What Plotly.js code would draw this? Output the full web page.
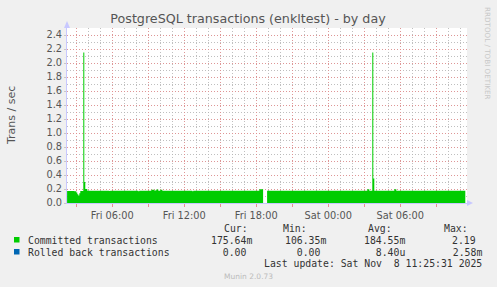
<!DOCTYPE html>
<html>
<head>
<meta charset="utf-8">
<script src="https://cdn.plot.ly/plotly-3.0.1.min.js"></script>
<style>html,body{margin:0;padding:0;background:#F0F0F0;}#chart{width:497px;height:287px;}</style>
</head>
<body>
<div id="chart"></div>
<script>
// ---- data ----
var times = [
  '2025-11-07 02:14','2025-11-07 02:50','2025-11-07 03:00','2025-11-07 03:05','2025-11-07 03:10',
  '2025-11-07 03:15','2025-11-07 03:20','2025-11-07 03:35','2025-11-07 03:40','2025-11-07 03:45',
  '2025-11-07 03:55','2025-11-07 05:45','2025-11-07 05:50','2025-11-07 08:10','2025-11-07 08:15',
  '2025-11-07 09:15','2025-11-07 09:30','2025-11-07 09:40','2025-11-07 09:50','2025-11-07 10:00',
  '2025-11-07 10:10','2025-11-07 12:40','2025-11-07 12:45','2025-11-07 18:15','2025-11-07 18:34',
  '2025-11-07 18:35','2025-11-07 18:54','2025-11-08 03:15','2025-11-08 03:25','2025-11-08 03:40',
  '2025-11-08 03:45','2025-11-08 03:50','2025-11-08 05:30','2025-11-08 05:40','2025-11-08 11:25'
];
var committed = [
  0.172,0.168,0.150,0.125,0.106,
  0.140,0.172,2.15,0.30,0.20,
  0.176,0.170,0.176,0.168,0.176,
  0.190,0.178,0.192,0.176,0.190,
  0.176,0.168,0.176,0.195,0.195,
  null,0.176,0.195,0.176,2.15,
  0.35,0.176,0.195,0.176,0.176
];
var rolledBack = [
  0,0,0,0,0,
  0,0,0.0026,0,0,
  0,0,0,0,0,
  0,0,0,0,0,
  0,0,0,0,0,
  null,0,0,0,0.002,
  0,0,0,0,0
];
var seriesNames = ['Committed transactions','Rolled back transactions'];
var seriesColors = ['#00CC00','#0066B3'];
var statHeaders = ['Cur:','Min:','Avg:','Max:'];
var statsCommitted = ['175.64m','106.35m','184.55m','2.19 '];
var statsRolled = ['  0.00 ','  0.00 ','  8.40u','  2.58m'];
var xTickVals = ['2025-11-07 03:00','2025-11-07 06:00','2025-11-07 09:00','2025-11-07 12:00',
  '2025-11-07 15:00','2025-11-07 18:00','2025-11-07 21:00','2025-11-08 00:00',
  '2025-11-08 03:00','2025-11-08 06:00','2025-11-08 09:00'];
var xTickText = ['','Fri 06:00','','Fri 12:00','','Fri 18:00','','Sat 00:00','','Sat 06:00',''];
var yTickVals = [0,0.2,0.4,0.6,0.8,1.0,1.2,1.4,1.6,1.8,2.0,2.2,2.4];
var titleText = 'PostgreSQL transactions (enkltest) - by day';
var yTitle = 'Trans / sec';
var lastUpdate = 'Last update: Sat Nov  8 11:25:31 2025';
var footer = 'Munin 2.0.73';
var watermark = 'RRDTOOL / TOBI OETIKER';

// ---- layout helpers (pixel -> paper) ----
var W = 497, H = 287, L = 67, R = 30, T = 28, B = 84;
var PW = W - L - R, PH = H - T - B;
function px(x){ return (x - L) / PW; }
function py(y){ return (T + PH - y) / PH; }
var mono = 'DejaVu Sans Mono, monospace';
var sans = 'DejaVu Sans, sans-serif';
function ann(text, x, y, anchor, size, color, family, angle){
  return {text: text, x: px(x), y: py(y), xref: 'paper', yref: 'paper', showarrow: false,
    xanchor: anchor, yanchor: 'middle', borderpad: 0,
    textangle: angle || 0,
    font: {family: family || mono, size: size || 9.8, color: color || '#333'}};
}

// split a series at its unknown (null) samples so each piece is filled on its own
function pieces(xs, ys){
  var out = [], cx = [], cy = [];
  for (var i = 0; i < xs.length; i++){
    if (ys[i] === null){ if (cx.length){ out.push([cx, cy]); } cx = []; cy = []; }
    else { cx.push(xs[i]); cy.push(ys[i]); }
  }
  if (cx.length){ out.push([cx, cy]); }
  return out;
}

var traces = [];
[[rolledBack, 1], [committed, 0]].forEach(function(s){
  pieces(times, s[0]).forEach(function(p){
    traces.push({x: p[0], y: p[1], type: 'scatter', mode: 'lines',
      line: {shape: 'hv', width: 0, color: seriesColors[s[1]]},
      fill: 'tozeroy', fillcolor: seriesColors[s[1]], hoverinfo: 'skip', name: seriesNames[s[1]]});
  });
});

var annotations = [];
var colRight = [252.5, 326.7, 406, 482.6];
var headRight = [249, 307.7, 392.7, 469.3];
for (var i = 0; i < 4; i++){
  annotations.push(ann(statHeaders[i], headRight[i], 228, 'right'));
  annotations.push(ann(statsCommitted[i], colRight[i], 240, 'right'));
  annotations.push(ann(statsRolled[i], colRight[i], 252, 'right'));
}
annotations.push(ann(seriesNames[0], 26.5, 240, 'left'));
annotations.push(ann(seriesNames[1], 26.5, 252, 'left'));
annotations.push(ann(lastUpdate, 483, 263.5, 'right'));
annotations.push(ann(footer, 248, 276, 'center', 7.5, '#bbbbbb', sans));
annotations.push(ann(watermark, 488, 53, 'center', 7.2, '#c8c8c8', sans, 90));
annotations.push(ann(yTitle, 11, 115, 'center', 11, '#555', sans, -90));

var shapes = [
  {type: 'rect', xref: 'paper', yref: 'paper', x0: px(14), x1: px(19.5), y0: py(242.5), y1: py(237),
   fillcolor: seriesColors[0], line: {width: 0}},
  {type: 'rect', xref: 'paper', yref: 'paper', x0: px(14), x1: px(19.5), y0: py(254.5), y1: py(249),
   fillcolor: seriesColors[1], line: {width: 0}},
  {type: 'path', xref: 'paper', yref: 'paper',
   path: 'M' + px(64) + ',' + py(28) + ' L' + px(70) + ',' + py(28) + ' L' + px(67) + ',' + py(21) + ' Z',
   fillcolor: '#c8c8ff', line: {width: 0}},
  {type: 'path', xref: 'paper', yref: 'paper',
   path: 'M' + px(467) + ',' + py(200) + ' L' + px(467) + ',' + py(206) + ' L' + px(473) + ',' + py(203) + ' Z',
   fillcolor: '#c8c8ff', line: {width: 0}}
];

var layout = {
  width: W, height: H,
  margin: {l: L, r: R, t: T, b: B, pad: 0},
  paper_bgcolor: '#F0F0F0', plot_bgcolor: '#FFFFFF',
  showlegend: false,
  title: {text: titleText, x: 248 / W, xref: 'container', xanchor: 'center', y: 1 - 19 / H, yref: 'container', yanchor: 'middle',
    font: {family: sans, size: 12.7, color: '#555'}},
  xaxis: {
    type: 'date', range: ['2025-11-07 02:13:30', '2025-11-08 11:33:30'],
    tickmode: 'array', tickvals: xTickVals, ticktext: xTickText,
    showgrid: true, gridcolor: 'rgba(230,140,140,0.8)', griddash: '1px,2px', gridwidth: 1,
    ticks: 'outside', ticklen: 3, tickcolor: 'rgba(230,120,120,0.8)',
    showline: true, linecolor: '#c8c8ff', linewidth: 1,
    tickfont: {family: sans, size: 9.8, color: '#555'},
    minor: {tickmode: 'linear', tick0: '2025-11-07 00:00', dtick: 3600000, showgrid: true,
      gridcolor: 'rgba(180,180,180,0.85)', griddash: '1px,2px', gridwidth: 1, ticks: ''},
    zeroline: false, fixedrange: true
  },
  yaxis: {
    range: [0, 2.5], tickmode: 'array', tickvals: yTickVals,
    tickformat: '.1f',
    showgrid: true, gridcolor: 'rgba(230,140,140,0.8)', griddash: '1px,2px', gridwidth: 1,
    ticks: 'outside', ticklen: 2, tickcolor: 'rgba(190,190,190,0.8)',
    showline: true, linecolor: '#c8c8ff', linewidth: 1,
    tickfont: {family: sans, size: 9.8, color: '#555'},
    minor: {tickmode: 'linear', tick0: 0, dtick: 0.1, showgrid: true,
      gridcolor: 'rgba(180,180,180,0.85)', griddash: '1px,2px', gridwidth: 1, ticks: ''},
    zeroline: false, fixedrange: true
  },
  annotations: annotations,
  shapes: shapes
};

Plotly.newPlot('chart', traces, layout, {displayModeBar: false, staticPlot: true});
</script>
</body>
</html>
